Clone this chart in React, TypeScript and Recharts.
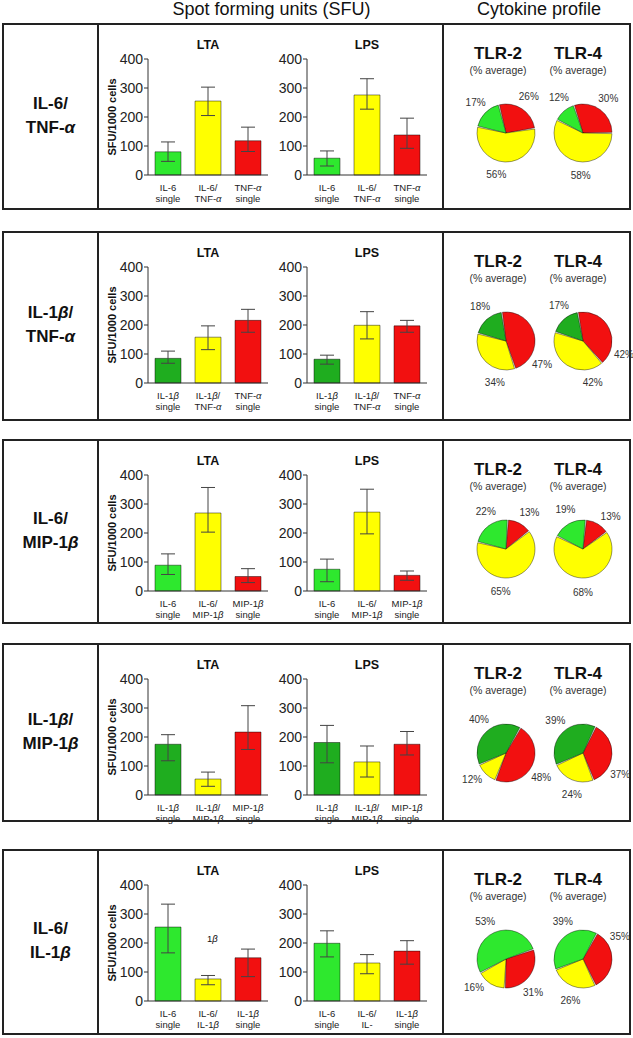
import React from "react";
import { BarChart, Bar, XAxis, YAxis, ErrorBar, Cell, PieChart, Pie } from "recharts";

// row labels (left column)
const rowNames = [
  ["IL-6/", "TNF-α"],
  ["IL-1β/", "TNF-α"],
  ["IL-6/", "MIP-1β"],
  ["IL-1β/", "MIP-1β"],
  ["IL-6/", "IL-1β"],
];

// category labels, "line1|line2"
const ltaLabels = [
  ["IL-6|single", "IL-6/|TNF-α", "TNF-α|single"],
  ["IL-1β|single", "IL-1β/|TNF-α", "TNF-α|single"],
  ["IL-6|single", "IL-6/|MIP-1β", "MIP-1β|single"],
  ["IL-1β|single", "IL-1β/|MIP-1β", "MIP-1β|single"],
  ["IL-6|single", "IL-6/|IL-1β", "IL-1β|single"],
];
const lpsLabels = [
  ["IL-6|single", "IL-6/|TNF-α", "TNF-α|single"],
  ["IL-1β|single", "IL-1β/|TNF-α", "TNF-α|single"],
  ["IL-6|single", "IL-6/|MIP-1β", "MIP-1β|single"],
  ["IL-1β|single", "IL-1β/|MIP-1β", "MIP-1β|single"],
  ["IL-6|single", "IL-6/|IL-", "IL-1β|single"],
];

// SFU / 1000 cells
const ltaMeans = [
  [80, 255, 118],
  [85, 158, 216],
  [89, 269, 50],
  [175, 55, 217],
  [255, 76, 149],
];
// [below, above]
const ltaErrors = [
  [[33, 34], [50, 48], [37, 47]],
  [[17, 25], [43, 39], [41, 38]],
  [[32, 39], [66, 88], [21, 27]],
  [[57, 33], [25, 24], [60, 91]],
  [[89, 79], [20, 12], [65, 30]],
];
const lpsMeans = [
  [58, 276, 138],
  [82, 199, 197],
  [75, 272, 54],
  [181, 114, 175],
  [199, 131, 172],
];
const lpsErrors = [
  [[27, 25], [49, 56], [46, 58]],
  [[17, 14], [47, 47], [22, 19]],
  [[43, 35], [75, 79], [17, 15]],
  [[70, 59], [52, 55], [37, 44]],
  [[47, 43], [37, 29], [45, 36]],
];

// % average: [green, red, yellow]
const tlr2Shares = [
  [17, 26, 56],
  [18, 47, 34],
  [22, 13, 65],
  [40, 48, 12],
  [53, 31, 16],
];
const tlr4Shares = [
  [12, 30, 58],
  [17, 42, 42],
  [19, 13, 68],
  [39, 37, 24],
  [39, 35, 26],
];

const yTicks = [0, 100, 200, 300, 400];

const FONT = "'Liberation Sans', Arial, Helvetica, sans-serif";
const GREEN_BRIGHT = "#2ee82e";
const GREEN_DARK = "#1fad1f";
const YELLOW = "#ffff00";
const RED = "#f21010";
const rowGreens = [GREEN_BRIGHT, GREEN_DARK, GREEN_BRIGHT, GREEN_DARK, GREEN_BRIGHT];

// layout
const rowTops = [23, 231, 439, 643, 849];
const rowHeights = [187, 190, 185, 179, 186];
// start angle of the red slice (clockwise) per pie
const pieStart = [
  [103, 107],
  [97, 99],
  [85, 83],
  [59, 63],
  [18, 60],
];
// where the % labels sit around each pie, degrees: [red, yellow, green]
const pieLabelAngles = [
  [[58, -103, 135], [54, -93, 124]],
  [[-33, -105, 127], [-18, -77, 124]],
  [[57, -97, 118], [50, -90, 114]],
  [[-35, -142, 129], [-30, -105, 130]],
  [[-51, -138, 119], [31, -107, 118]],
];

const GREEK = /([αβ])/;

function svgRich(text: string) {
  return text
    .split(GREEK)
    .filter(Boolean)
    .map((s, i) =>
      GREEK.test(s) ? (
        <tspan key={i} fontStyle="italic">{s}</tspan>
      ) : (
        <tspan key={i}>{s}</tspan>
      )
    );
}

function htmlRich(text: string) {
  return text
    .split(GREEK)
    .filter(Boolean)
    .map((s, i) => (GREEK.test(s) ? <i key={i}>{s}</i> : <span key={i}>{s}</span>));
}

function CatTick(props: any) {
  const { x, y, payload, labels } = props;
  const [l1, l2] = labels[payload.index].split("|");
  return (
    <g>
      <text x={x} y={y + 13.5} textAnchor="middle" fontSize={9.5} fill="#222" fontFamily={FONT}>
        {svgRich(l1)}
      </text>
      <text x={x} y={y + 24.5} textAnchor="middle" fontSize={9.5} fill="#222" fontFamily={FONT}>
        {svgRich(l2)}
      </text>
    </g>
  );
}

function BarPanel({ left, top, yw, title, means, errors, labels, colors }: any) {
  const data = means.map((v: number, i: number) => ({ name: String(i), value: v, err: errors[i] }));
  const W = yw + 120 + 6;
  const H = 158;
  return (
    <div style={{ position: "absolute", left, top, width: W, height: H }}>
      <div
        style={{
          position: "absolute",
          left: yw,
          width: 120,
          top: -11,
          textAlign: "center",
          fontWeight: 700,
          fontSize: 12.5,
        }}
      >
        {title}
      </div>
      <BarChart width={W} height={H} data={data} margin={{ top: 10, right: 6, bottom: 0, left: 0 }}>
        <XAxis
          dataKey="name"
          interval={0}
          tickLine={false}
          tickSize={0}
          height={32}
          axisLine={{ stroke: "#333" }}
          tick={<CatTick labels={labels} />}
        />
        <YAxis
          domain={[0, 400]}
          ticks={yTicks}
          width={yw}
          tickSize={4}
          tickMargin={1}
          axisLine={{ stroke: "#333" }}
          tickLine={{ stroke: "#333" }}
          tick={{ fontSize: 14, fill: "#222", fontFamily: FONT }}
        />
        <Bar dataKey="value" barSize={26} isAnimationActive={false} stroke="rgba(0,0,0,0.45)" strokeWidth={1}>
          {data.map((_: any, i: number) => (
            <Cell key={i} fill={colors[i]} />
          ))}
          <ErrorBar dataKey="err" width={7} stroke="#444" strokeWidth={1} direction="y" isAnimationActive={false} />
        </Bar>
      </BarChart>
    </div>
  );
}

const RAD = Math.PI / 180;
function pieLabel(p: any, angles: number[]) {
  const a = angles[p.index] * RAD;
  const r = p.outerRadius + 14;
  const x = p.cx + r * Math.cos(a);
  const y = p.cy - r * Math.sin(a);
  return (
    <text
      key={p.index}
      x={x}
      y={y}
      textAnchor="middle"
      dominantBaseline="central"
      fontSize={10}
      fill="#333"
      fontFamily={FONT}
    >
      {p.value}%
    </text>
  );
}

function PiePanel({ top, height, shares2, shares4, starts, angles, green }: any) {
  const mk = (s: number[]) => [
    { name: "red", value: s[1], fill: RED },
    { name: "yellow", value: s[2], fill: YELLOW },
    { name: "green", value: s[0], fill: green },
  ];
  const d2 = mk(shares2);
  const d4 = mk(shares4);
  const cxs = [57, 134];
  return (
    <div style={{ position: "absolute", left: 444, top, width: 189, height }}>
      {["TLR-2", "TLR-4"].map((t, i) => (
        <div
          key={t}
          style={{ position: "absolute", left: cxs[i] - 40 - (i === 0 ? 3 : 0), width: 80, top: 21, textAlign: "center" }}
        >
          <div style={{ fontWeight: 700, fontSize: 17, lineHeight: "20px" }}>{t}</div>
          <div style={{ fontSize: 10.5, lineHeight: "12px", color: "#333" }}>(% average)</div>
        </div>
      ))}
      <PieChart width={189} height={height}>
        {[d2, d4].map((d, k) => (
          <Pie
            key={k}
            data={d}
            dataKey="value"
            cx={cxs[k]}
            cy={105}
            outerRadius={29}
            startAngle={starts[k]}
            endAngle={starts[k] - 360}
            paddingAngle={2.5}
            stroke="rgba(0,0,0,0.45)"
            strokeWidth={0.9}
            label={(p: any) => pieLabel(p, angles[k])}
            labelLine={false}
            isAnimationActive={false}
          >
            {d.map((e, i) => (
              <Cell key={i} fill={e.fill} />
            ))}
          </Pie>
        ))}
      </PieChart>
    </div>
  );
}

export default function App() {
  return (
    <div
      style={{
        position: "absolute",
        left: 0,
        top: 0,
        width: 633,
        height: 1038,
        background: "#fff",
        fontFamily: FONT,
        color: "#111",
      }}
    >
      <div style={{ position: "absolute", left: 100, width: 343, top: -1, textAlign: "center", fontSize: 18 }}>
        Spot forming units (SFU)
      </div>
      <div style={{ position: "absolute", left: 444, width: 190, top: -1, textAlign: "center", fontSize: 18 }}>
        Cytokine profile
      </div>
      {rowTops.map((T, r) => {
        const H = rowHeights[r];
        const colors = r === 4 ? [GREEN_BRIGHT, YELLOW, RED] : [rowGreens[r], YELLOW, RED];
        return (
          <div key={r}>
            <div
              style={{
                position: "absolute",
                left: 2,
                top: T,
                width: 629,
                height: H,
                boxSizing: "border-box",
                border: "2px solid #222",
              }}
            />
            <div style={{ position: "absolute", left: 97, top: T, width: 2, height: H, background: "#222" }} />
            <div style={{ position: "absolute", left: 442, top: T, width: 2, height: H, background: "#222" }} />
            <div
              style={{
                position: "absolute",
                left: 4,
                width: 93,
                top: T + H / 2 - 25,
                textAlign: "center",
                fontWeight: 700,
                fontSize: 17,
                lineHeight: "24px",
              }}
            >
              <div>{htmlRich(rowNames[r][0])}</div>
              <div>{htmlRich(rowNames[r][1])}</div>
            </div>
            <div
              style={{
                position: "absolute",
                left: 112,
                top: T + 94,
                transform: "translate(-50%, -50%) rotate(-90deg)",
                fontWeight: 700,
                fontSize: 11,
                whiteSpace: "nowrap",
              }}
            >
              SFU/1000 cells
            </div>
            <BarPanel
              left={100}
              top={T + 26}
              yw={48}
              title="LTA"
              means={ltaMeans[r]}
              errors={ltaErrors[r]}
              labels={ltaLabels[r]}
              colors={colors}
            />
            <BarPanel
              left={267}
              top={T + 26}
              yw={40}
              title="LPS"
              means={lpsMeans[r]}
              errors={lpsErrors[r]}
              labels={lpsLabels[r]}
              colors={colors}
            />
            <PiePanel
              top={T}
              height={H}
              shares2={tlr2Shares[r]}
              shares4={tlr4Shares[r]}
              starts={pieStart[r]}
              angles={pieLabelAngles[r]}
              green={rowGreens[r]}
            />
            {r === 4 && (
              <div style={{ position: "absolute", left: 207, top: T + 84, fontSize: 9.5 }}>{htmlRich("1β")}</div>
            )}
          </div>
        );
      })}
    </div>
  );
}
